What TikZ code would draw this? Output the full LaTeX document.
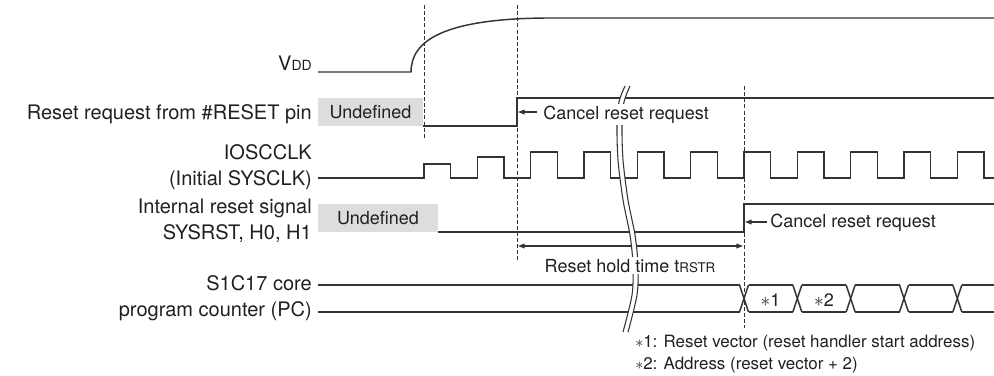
\documentclass[tikz,border=0pt]{standalone}
\usepackage{fontspec}
\setmainfont{TeX Gyre Heros}
\usetikzlibrary{arrows.meta}
\definecolor{sigcol}{RGB}{58,50,50}
\definecolor{txtcol}{RGB}{35,31,32}
\definecolor{undefcol}{RGB}{220,222,221}
\tikzset{
  sig/.style={draw=sigcol, line width=1.1pt},
  dsh/.style={draw=sigcol, line width=0.75pt, dash pattern=on 3pt off 1.6pt},
  brk/.style={draw=sigcol, line width=0.8pt},
  lbl/.style={font=\fontsize{15}{18}\selectfont, anchor=base east, inner sep=0pt, text=txtcol},
  ann/.style={font=\fontsize{13.5}{16}\selectfont, inner sep=0pt, text=txtcol},
  foot/.style={font=\fontsize{12.7}{15}\selectfont, inner sep=0pt, text=txtcol, anchor=base west},
  undefbox/.style={fill=undefcol},
  tipone/.style={draw=sigcol, line width=0.8pt, -{Triangle[length=5pt,width=3.6pt]}},
  tiptwo/.style={draw=sigcol, line width=0.8pt, {Triangle[length=5pt,width=3.6pt]}-{Triangle[length=5pt,width=3.6pt]}},
}
\begin{document}
\begin{tikzpicture}[x=0.75pt, y=-0.75pt]
\useasboundingbox (0,0) rectangle (994,375);

% labels
\node[lbl] (lvdd) at (312,70) {V{\fontsize{10.5}{12}\selectfont DD}};
\node[lbl] (lrst) at (312,119) {Reset request from \#RESET pin};
\node[lbl] (losc) at (312,159) {IOSCCLK};
\node[lbl] (losc2) at (312,185) {(Initial SYSCLK)};
\node[lbl] (lint) at (312,213) {Internal reset signal};
\node[lbl] (lint2) at (312,239) {SYSRST, H0, H1};
\node[lbl] (lpc) at (312,290) {S1C17 core};
\node[lbl] (lpc2) at (312,316) {program counter (PC)};

% undefined boxes
\fill[undefbox] (318,98) rectangle (423,126);
\node[ann] (und1) at (370.5,112) {Undefined};
\fill[undefbox] (318,204) rectangle (438,232);
\node[ann] (und2) at (378,218) {Undefined};

% dashed lines
\draw[dsh] (424,5) -- (424,138);
\draw[dsh] (517,5) -- (517,260);
\draw[dsh] (744,86) -- (744,328);

% VDD
\draw[sig] (318,72) -- (411,72) .. controls (411,40) and (445,19) .. (545,18) -- (994,18);

% reset request
\draw[sig] (423,126) -- (517,126) -- (517,98) -- (994,98);

% clock
\draw[sig, line join=miter] (318,178) -- (424,178) -- (424,164) -- (450.67,164) -- (450.67,178)
  -- (477.33,178) -- (477.33,157) -- (504,157) -- (504,178)
  \foreach \k in {2,...,10} { -- ({424+53.333*\k},178) -- ({424+53.333*\k},152) -- ({450.667+53.333*\k},152) -- ({450.667+53.333*\k},178) }
  -- (994,178);

% internal reset
\draw[sig] (438,232) -- (744,232) -- (744,204) -- (994,204);

% bus
\draw[sig] (318,285) -- (739.5,285);
\draw[sig] (318,312) -- (739.5,312);
\foreach \j in {0,...,4} {
  \draw[sig] ({744+53.333*\j-4.5},285) -- ({744+53.333*\j+4.5},312);
  \draw[sig] ({744+53.333*\j-4.5},312) -- ({744+53.333*\j+4.5},285);
}
\foreach \j in {0,...,3} {
  \draw[sig] ({744+53.333*\j+4.5},285) -- ({744+53.333*(\j+1)-4.5},285);
  \draw[sig] ({744+53.333*\j+4.5},312) -- ({744+53.333*(\j+1)-4.5},312);
}
\draw[sig] (961.8,285) -- (994,285);
\draw[sig] (961.8,312) -- (994,312);

% arrows
\coordinate (a1) at (537,112);
\coordinate (a1e) at (518,112);
\coordinate (h1) at (518,246);
\coordinate (h2) at (743,246);
\coordinate (a2) at (767,222);
\coordinate (a2e) at (745,222);
\draw[tipone] (a1) -- (a1e);
\draw[tiptwo] (h1) -- (h2);
\draw[tipone] (a2) -- (a2e);

% break marks
\path[fill=white] plot[smooth] coordinates {(625,86) (619,102) (617,125) (618,160) (623,200) (630,235) (633,265) (632,295) (623,332)}
  -- plot[smooth] coordinates {(628,332) (637,295) (638,265) (635,235) (628,200) (623,160) (622,125) (624,102) (630,86)} -- cycle;
\draw[brk] plot[smooth] coordinates {(625,86) (619,102) (617,125) (618,160) (623,200) (630,235) (633,265) (632,295) (623,332)};
\draw[brk] plot[smooth] coordinates {(630,86) (624,102) (622,125) (623,160) (628,200) (635,235) (638,265) (637,295) (628,332)};

% annotation texts
\node[ann, anchor=base west, fill=white, inner ysep=1.2pt] (c1) at (543,119) {Cancel reset request};
\node[ann, anchor=base, fill=white, inner ysep=1.2pt] (hold) at (630,272) {Reset hold time t{\fontsize{10}{12}\selectfont RSTR}};
\node[ann, anchor=base west] (c2) at (770,227) {Cancel reset request};
\node[ann, anchor=base] (s1) at (770.5,306) {$\ast$1};
\node[ann, anchor=base] (s2) at (824,306) {$\ast$2};
\node[foot] (f1) at (635,347) {$\ast$1: Reset vector (reset handler start address)};
\node[foot] (f2) at (635,369) {$\ast$2: Address (reset vector + 2)};
\end{tikzpicture}
\end{document}
